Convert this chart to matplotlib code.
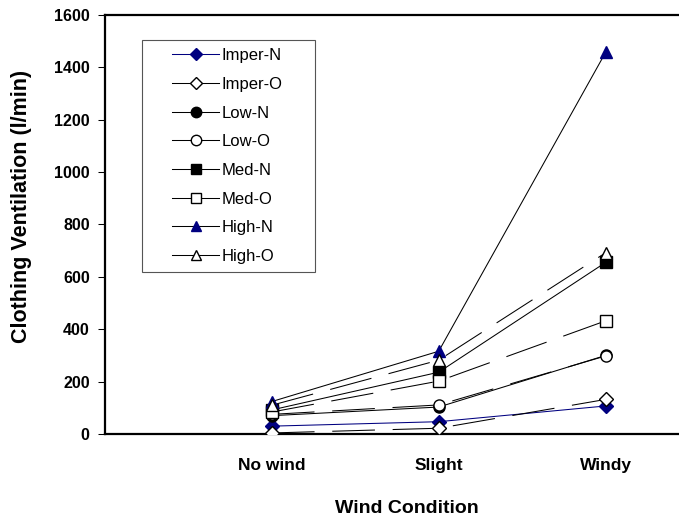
import matplotlib
matplotlib.use("Agg")
import matplotlib.pyplot as plt
from matplotlib.patches import Rectangle

plt.rcParams["font.family"] = ["Liberation Sans", "DejaVu Sans"]

conditions = ["No wind", "Slight", "Windy"]

imper_n = [30, 47, 107]
imper_o = [4, 22, 132]
low_n = [70, 103, 300]
low_o = [75, 111, 298]
med_n = [92, 236, 655]
med_o = [84, 202, 432]
high_n = [124, 316, 1457]
high_o = [110, 282, 692]

series = [
    ("Imper-N", imper_n, "D", "navy", "navy", "-"),
    ("Imper-O", imper_o, "D", "white", "black", "dash"),
    ("Low-N", low_n, "o", "black", "black", "-"),
    ("Low-O", low_o, "o", "white", "black", "dash"),
    ("Med-N", med_n, "s", "black", "black", "-"),
    ("Med-O", med_o, "s", "white", "black", "dash"),
    ("High-N", high_n, "^", "navy", "black", "-"),
    ("High-O", high_o, "^", "white", "black", "dash"),
]

W, H = 679, 518
fig = plt.figure(figsize=(W / 100, H / 100), dpi=100)
ax = fig.add_axes([105 / W, 1 - 434 / H, 1 - 105 / W, 419 / H])

x = [1, 2, 3]
handles = []
for name, vals, marker, face, linecol, style in series:
    ls = (0, (41, 17)) if style == "dash" else "-"
    ms = 7 if marker == "D" else 8
    mec = "navy" if face == "navy" else "black"
    # line and markers drawn apart so the legend can show a solid line
    ax.plot(x, vals, color=linecol, lw=0.75, linestyle=ls, zorder=2)
    ax.plot(x, vals, linestyle="none", marker=marker, markersize=ms,
            markerfacecolor=face, markeredgecolor=mec, markeredgewidth=1, zorder=3)
    h, = ax.plot([], [], color=linecol, lw=0.75, marker=marker, markersize=ms - 0.5,
                 markerfacecolor=face, markeredgecolor=mec, markeredgewidth=1)
    handles.append((h, name))

ax.set_xlim(0, 3.44)
ax.set_ylim(0, 1600)
ax.set_xticks(x)
ax.set_xticklabels(conditions, fontsize=12.5, fontweight="bold")
ax.tick_params(axis="x", length=0, pad=17)
ax.set_yticks(range(0, 1601, 200))
ax.set_yticklabels([str(v) for v in range(0, 1601, 200)], fontsize=11.5, fontweight="bold")
ax.tick_params(axis="y", direction="out", length=5, width=0.75, pad=6)

for side in ["left", "bottom", "top"]:
    ax.spines[side].set_linewidth(1.6)
ax.spines["right"].set_visible(False)

fig.text(407 / W, 1 - 513 / H, "Wind Condition", fontsize=14, fontweight="bold",
         ha="center", va="baseline")
fig.text(22 / W, 1 - 206 / H, "Clothing Ventilation (l/min)", fontsize=15.5,
         fontweight="bold", rotation=90, ha="center", va="center")

leg = ax.legend([h for h, _ in handles], [n for _, n in handles],
                loc="upper left", bbox_to_anchor=((164 - 105) / 574, 1 - (40 - 15) / 419),
                fontsize=12, frameon=False,
                handlelength=2.8, handletextpad=0.15, labelspacing=0.82,
                borderpad=0.5, borderaxespad=0)

# wider frame than matplotlib's legend pads give, like the original box
fig.canvas.draw()
bb = leg.get_window_extent()
frame = Rectangle((bb.x0 - 22, bb.y0), bb.width + 46, bb.height,
                  transform=None, fill=False, edgecolor="#555555", lw=0.8, zorder=5)
fig.add_artist(frame)

fig.savefig("out.png", dpi=100)
